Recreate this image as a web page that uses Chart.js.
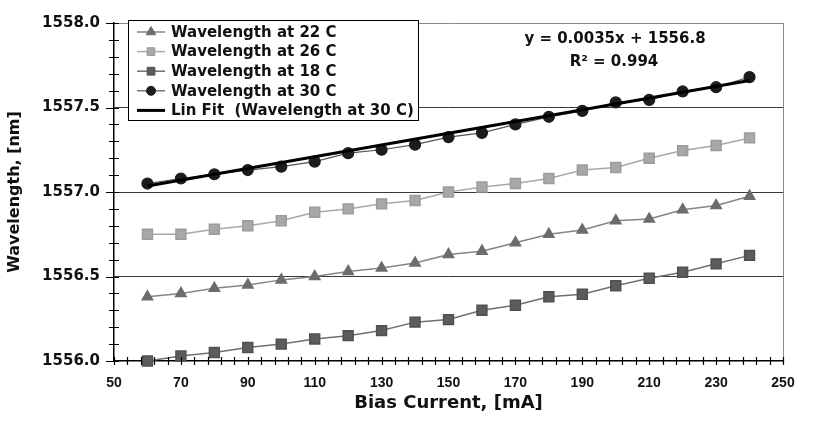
<!DOCTYPE html>
<html>
<head>
<meta charset="utf-8">
<script src="https://cdn.jsdelivr.net/npm/chart.js@4.4.1/dist/chart.umd.min.js"></script>
<style>
  html, body { margin: 0; padding: 0; background: #fff; }
  #wrap { width: 824px; height: 421px; }
</style>
</head>
<body>
<div id="wrap"><canvas id="chart" width="824" height="421"></canvas></div>
<script>
// bias current, mA
const biasCurrent = [60, 70, 80, 90, 100, 110, 120, 130, 140, 150, 160, 170, 180, 190, 200, 210, 220, 230, 240];
// wavelength, nm
const wl22 = [1556.38, 1556.40, 1556.43, 1556.45, 1556.48, 1556.50, 1556.53, 1556.55, 1556.58, 1556.63, 1556.65, 1556.70, 1556.75, 1556.775, 1556.83, 1556.84, 1556.895, 1556.92, 1556.975];
const wl26 = [1556.75, 1556.75, 1556.78, 1556.80, 1556.83, 1556.88, 1556.90, 1556.93, 1556.95, 1557.00, 1557.03, 1557.05, 1557.08, 1557.13, 1557.145, 1557.20, 1557.245, 1557.275, 1557.32];
const wl18 = [1556.00, 1556.03, 1556.05, 1556.08, 1556.10, 1556.13, 1556.15, 1556.18, 1556.23, 1556.245, 1556.30, 1556.33, 1556.38, 1556.395, 1556.445, 1556.49, 1556.525, 1556.575, 1556.625];
const wl30 = [1557.05, 1557.08, 1557.105, 1557.13, 1557.15, 1557.18, 1557.23, 1557.25, 1557.28, 1557.325, 1557.35, 1557.40, 1557.445, 1557.48, 1557.53, 1557.545, 1557.595, 1557.62, 1557.68];
// lin fit end points (as drawn)
const fitX = [60, 240];
const fitY = [1557.035, 1557.66];

const seriesLabels = ['Wavelength at 22 C', 'Wavelength at 26 C', 'Wavelength at 18 C', 'Wavelength at 30 C', 'Lin Fit  (Wavelength at 30 C)'];
const fitText = ['y = 0.0035x + 1556.8', 'R\u00b2 = 0.994'];

const xMin = 50, xMax = 250, xStep = 4, xLabelStep = 20;
const yMin = 1556, yMax = 1558, yStep = 0.1, yLabelStep = 0.5;

function pts(xs, ys) {
  return xs.map((x, i) => ({ x: x, y: ys[i] }));
}

const boldFont = 'DejaVu Sans';

// ticks crossing the axes, plot frame, legend box and fit equation
const extras = {
  id: 'extras',
  afterDraw(chart) {
    const ctx = chart.ctx;
    const xs = chart.scales.x, ys = chart.scales.y;
    const a = chart.chartArea;
    ctx.save();

    // right frame line
    ctx.strokeStyle = '#8a8a8a';
    ctx.lineWidth = 1;
    ctx.beginPath();
    ctx.moveTo(a.right + 0.5, a.top);
    ctx.lineTo(a.right + 0.5, a.bottom);
    ctx.stroke();

    // tick marks
    ctx.strokeStyle = '#000';
    ctx.lineWidth = 1.2;
    ctx.beginPath();
    xs.ticks.forEach(t => {
      const px = Math.round(xs.getPixelForValue(t.value)) + 0.5;
      ctx.moveTo(px, a.bottom - 4);
      ctx.lineTo(px, a.bottom + 4);
    });
    ys.ticks.forEach(t => {
      const py = Math.round(ys.getPixelForValue(t.value)) + 0.5;
      const major = Math.abs(Math.round(t.value * 10) % 5) === 0;
      ctx.moveTo(a.left - (major ? 8 : 5), py);
      ctx.lineTo(a.left + 5, py);
    });
    ctx.stroke();

    // legend
    const bx = 128, by = 20, bw = 290, bh = 100;
    ctx.fillStyle = '#fff';
    ctx.fillRect(bx, by, bw, bh);
    ctx.strokeStyle = '#000';
    ctx.lineWidth = 1;
    ctx.strokeRect(bx + 0.5, by + 0.5, bw, bh);
    ctx.font = 'bold 15px "' + boldFont + '"';
    ctx.textBaseline = 'middle';
    ctx.textAlign = 'left';
    chart.data.datasets.forEach((ds, i) => {
      const cy = by + 12 + i * 19.6;
      ctx.strokeStyle = ds.borderColor;
      ctx.lineWidth = ds.borderWidth;
      ctx.beginPath();
      ctx.moveTo(bx + 9, cy);
      ctx.lineTo(bx + 37, cy);
      ctx.stroke();
      if (ds.pointRadius > 0) {
        ctx.fillStyle = ds.pointBackgroundColor;
        ctx.strokeStyle = ds.pointBorderColor;
        ctx.lineWidth = 1;
        Chart.helpers.drawPoint(ctx, {
          pointStyle: ds.pointStyle,
          radius: ds.pointStyle === 'circle' ? 4.5 : 5.5,
          rotation: 0,
          borderWidth: 1
        }, bx + 23, cy);
      }
      ctx.fillStyle = '#111';
      ctx.fillText(ds.label, bx + 43, cy + 1);
    });

    // fit equation
    ctx.fillStyle = '#111';
    ctx.textAlign = 'center';
    ctx.font = 'bold 15px "' + boldFont + '"';
    ctx.fillText(fitText[0], 615, 39);
    ctx.fillText(fitText[1], 614, 62);

    ctx.restore();
  }
};

const ctx = document.getElementById('chart').getContext('2d');
window.myChart = new Chart(ctx, {
  type: 'line',
  data: {
    datasets: [
      {
        label: seriesLabels[0],
        data: pts(biasCurrent, wl22),
        borderColor: '#858585',
        borderWidth: 1.5,
        pointStyle: 'triangle',
        pointRadius: 6,
        pointBackgroundColor: '#6c6c6c',
        pointBorderColor: '#6c6c6c',
        order: 2,
        clip: false
      },
      {
        label: seriesLabels[1],
        data: pts(biasCurrent, wl26),
        borderColor: '#a8a8a8',
        borderWidth: 1.5,
        pointStyle: 'rect',
        pointRadius: 7,
        pointBackgroundColor: '#a8a8a8',
        pointBorderColor: '#9c9c9c',
        order: 2,
        clip: false
      },
      {
        label: seriesLabels[2],
        data: pts(biasCurrent, wl18),
        borderColor: '#707070',
        borderWidth: 1.5,
        pointStyle: 'rect',
        pointRadius: 7,
        pointBackgroundColor: '#5c5c5c',
        pointBorderColor: '#505050',
        order: 2,
        clip: false
      },
      {
        label: seriesLabels[3],
        data: pts(biasCurrent, wl30),
        borderColor: '#555555',
        borderWidth: 1.2,
        pointStyle: 'circle',
        pointRadius: 5.5,
        pointBackgroundColor: '#1c1c1c',
        pointBorderColor: '#1c1c1c',
        order: 1,
        clip: false
      },
      {
        label: seriesLabels[4],
        data: pts(fitX, fitY),
        borderColor: '#000000',
        borderWidth: 3,
        pointRadius: 0,
        order: 0,
        clip: false
      }
    ]
  },
  options: {
    responsive: false,
    animation: false,
    devicePixelRatio: 1,
    layout: { padding: { top: 14, right: 41, bottom: 0, left: 0 } },
    plugins: {
      legend: { display: false },
      tooltip: { enabled: false }
    },
    elements: { line: { tension: 0 } },
    scales: {
      x: {
        type: 'linear',
        min: xMin,
        max: xMax,
        afterFit: s => { s.height = 60; },
        grid: { display: false },
        border: { display: true, color: '#000', width: 1.5 },
        ticks: {
          stepSize: xStep,
          autoSkip: false,
          maxRotation: 0,
          padding: 6,
          color: '#111',
          font: { family: 'Liberation Sans', size: 14, weight: 'bold' },
          callback: v => ((v - xMin) % xLabelStep === 0 ? String(v) : '')
        },
        title: {
          display: true,
          text: 'Bias Current, [mA]',
          color: '#111',
          font: { family: '"' + boldFont + '"', size: 18, weight: 'bold' },
          padding: { top: 0, bottom: 7 }
        }
      },
      y: {
        min: yMin,
        max: yMax,
        afterFit: s => { s.width = 114; },
        grid: {
          drawTicks: false,
          lineWidth: 1,
          color: c => {
            const v = Math.round(c.tick.value * 10);
            if (v % 5 !== 0 || v === yMin * 10) return 'rgba(0,0,0,0)';
            if (v === yMax * 10) return '#8a8a8a';
            return '#3a3a3a';
          }
        },
        border: { display: true, color: '#000', width: 1.5 },
        ticks: {
          stepSize: yStep,
          autoSkip: false,
          padding: 14,
          color: '#111',
          font: { family: '"' + boldFont + '"', size: 15, weight: 'bold' },
          callback: v => (Math.round(v * 10) % (yLabelStep * 10) === 0 ? Number(v).toFixed(1) : '')
        },
        title: {
          display: true,
          text: 'Wavelength, [nm]',
          color: '#111',
          font: { family: '"' + boldFont + '"', size: 16, weight: 'bold' },
          padding: { top: 5, bottom: 0 }
        }
      }
    }
  },
  plugins: [extras]
});
</script>
</body>
</html>
